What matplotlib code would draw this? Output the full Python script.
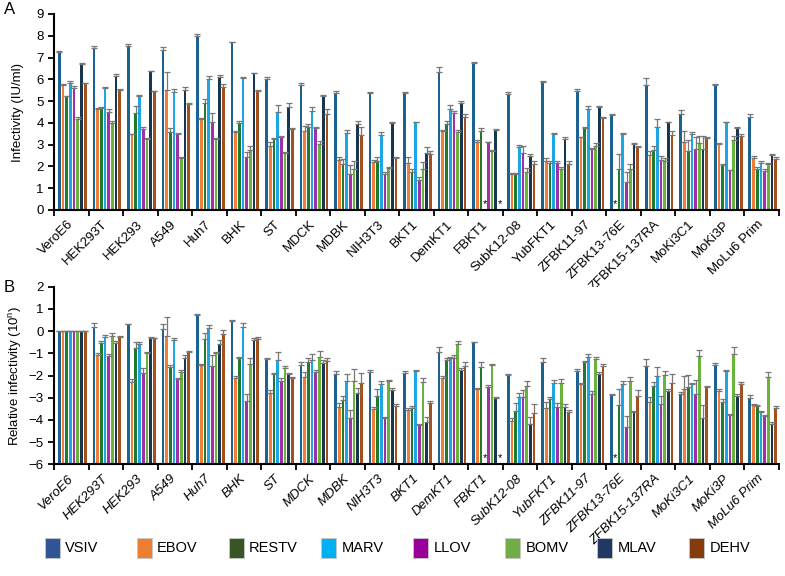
import numpy as np
import matplotlib
matplotlib.use('Agg')
import matplotlib.pyplot as plt
import matplotlib.transforms as mtransforms
from matplotlib.patches import Rectangle

plt.rcParams['font.family'] = ['Liberation Sans', 'DejaVu Sans']

cells = ['VeroE6', 'HEK293T', 'HEK293', 'A549', 'Huh7', 'BHK', 'ST', 'MDCK', 'MDBK',
         'NIH3T3', 'BKT1', 'DemKT1', 'FBKT1', 'SubK12-08', 'YubFKT1', 'ZFBK11-97',
         'ZFBK13-76E', 'ZFBK15-137RA', 'MoKi3C1', 'MoKi3P', 'MoLu6 Prim']
series = ['VSIV', 'EBOV', 'RESTV', 'MARV', 'LLOV', 'BOMV', 'MLAV', 'DEHV']
nan = np.nan

# Panel A: infectivity (IU/ml, log10)
a_vsiv = [7.25, 7.45, 7.55, 7.35, 8.0, 7.7, 6.0, 5.74, 5.37, 5.37, 5.38, 6.35, 6.73, 5.31, 5.86, 5.46, 4.36, 5.74, 4.43, 5.74, 4.25]
a_ebov = [5.72, 4.65, 3.47, 5.5, 4.2, 3.6, 2.95, 3.63, 2.29, 2.21, 2.18, 3.62, 3.13, 1.67, 2.25, 3.33, nan, 2.52, 3.13, 3.04, 2.41]
a_restv = [5.22, 4.7, 4.47, 3.6, 4.9, 4.0, 3.27, 3.8, 2.12, 2.25, 1.75, 3.94, 3.62, 1.64, 2.18, 3.78, 1.87, 2.75, 2.71, 2.06, 1.86]
a_marv = [5.82, 5.6, 5.25, 5.4, 6.0, 6.05, 4.52, 4.54, 3.54, 3.44, 4.02, 4.63, nan, 2.9, 3.5, 4.66, 3.47, 3.79, 3.47, 4.02, 2.16]
a_llov = [5.6, 4.5, 3.72, 3.47, 4.05, 2.45, 3.35, 3.77, 1.67, 1.66, 1.40, 4.46, 3.10, 2.62, 2.17, 2.79, 1.29, 2.29, 2.79, 1.83, 1.79]
a_bomv = [4.2, 4.0, 3.25, 2.4, 3.25, 2.75, 2.6, 3.02, 1.90, 1.93, 1.90, 3.59, 2.70, 1.75, 1.86, 2.96, 1.90, 2.24, 3.08, 3.21, 2.10]
a_mlav = [6.7, 6.15, 6.37, 5.5, 6.1, 6.28, 4.75, 5.23, 3.93, 4.0, 2.61, 4.91, 3.68, 2.48, 3.28, 4.74, 3.02, 4.02, 2.78, 3.77, 2.52]
a_dehv = [5.82, 5.5, 5.45, 4.87, 5.67, 5.45, 3.7, 4.43, 3.44, 2.39, 2.58, 4.26, nan, 2.13, 2.13, 4.24, 2.9, 3.44, 3.31, 3.39, 2.32]

a_vsiv_err = [.07, .07, .08, .15, .1, .03, .12, .1, .1, .05, .04, .2, .05, .1, .05, .1, .05, .3, .15, .05, .15]
a_ebov_err = [.05, .05, .03, .85, .03, .05, .15, .25, .15, .1, .25, .05, .07, .05, .15, .02, 0, .2, .5, .05, .05]
a_restv_err = [.03, .05, .3, .15, .2, .07, .05, .15, .2, .2, .15, .15, .15, .05, .05, .02, .7, .2, .5, .05, .1]
a_marv_err = [.1, .07, .05, .15, .17, .07, .28, .2, .15, .15, .02, .2, 0, .1, .05, .1, .05, .4, .1, .02, .1]
a_llov_err = [.1, .12, .07, .05, .4, .2, .07, .05, .4, .1, .1, .1, .02, .3, .1, .05, .45, .2, .55, .02, .1]
a_bomv_err = [.05, .1, .05, .03, .05, .2, .05, .15, .35, .05, .3, .1, .05, .2, .1, .1, .2, .15, .3, .2, .07]
a_mlav_err = [.05, .1, .03, .15, .12, .02, .15, .07, .15, .03, .3, .1, .03, .1, .05, .05, .05, .03, .6, .05, .05]
a_dehv_err = [.03, .07, .03, .03, .12, .08, .05, .2, .35, .05, .15, .15, 0, .1, .1, .05, .05, .2, .05, .1, .1]

# Panel B: relative infectivity (10^n)
b_vsiv = [0, 0.2, 0.3, 0.08, 0.74, 0.47, -1.25, -1.53, -1.91, -1.86, -1.9, -0.93, -0.51, -1.98, -1.38, -1.8, -2.88, -1.57, -2.84, -1.53, -3.0]
b_ebov = [0, -1.08, -2.28, -0.23, -1.53, -2.13, -2.81, -2.09, -3.41, -3.51, -3.55, -2.1, -2.61, -4.05, -3.45, -2.39, nan, -3.21, -2.63, -2.7, -3.33]
b_restv = [0, -0.53, -0.74, -1.61, -0.35, -1.2, -1.95, -1.41, -3.11, -2.93, -3.48, -1.31, -1.61, -3.6, -3.06, -1.38, -3.35, -2.48, -2.51, -3.18, -3.38]
b_marv = [0, -0.26, -0.57, -0.41, 0.15, 0.2, -1.31, -1.28, -2.24, -2.4, -1.8, -1.23, nan, -2.96, -2.36, -1.17, -2.39, -2.03, -2.39, -1.79, -3.66]
b_llov = [0, -1.13, -1.88, -2.15, -1.58, -3.15, -2.24, -1.83, -3.9, -3.9, -4.23, -1.19, -2.54, -2.96, -3.44, -2.84, -4.31, -3.3, -2.84, -3.78, -3.81]
b_bomv = [0, -0.2, -0.98, -1.83, -0.98, -1.46, -1.64, -1.16, -2.24, -2.24, -2.31, -0.6, -1.52, -2.48, -2.33, -1.25, -2.25, -1.96, -1.13, -1.01, -2.06]
b_mlav = [0, -0.53, -0.29, -1.19, -0.56, -0.38, -1.95, -1.43, -2.78, -2.66, -4.08, -1.76, -3.0, -4.2, -3.41, -1.94, -3.63, -2.69, -3.92, -2.93, -4.19]
b_dehv = [0, -0.26, -0.32, -0.93, -0.11, -0.36, -2.1, -1.35, -2.33, -3.38, -3.23, -1.55, nan, -3.68, -3.66, -1.56, -2.91, -2.36, -2.51, -2.39, -3.48]

b_vsiv_err = [0, .15, .02, .25, .02, .05, .05, .15, .12, .1, .1, .2, .03, .05, .15, .1, .05, .3, .1, .08, .1]
b_ebov_err = [0, .1, .1, .85, .05, .1, .15, .25, .15, .08, .1, .1, .05, .15, .25, .05, 0, .22, .6, .1, .05]
b_restv_err = [0, .08, .25, .1, .25, .05, .05, .2, .2, .3, .1, .1, .2, .35, .08, .02, .75, .2, .55, .1, .05]
b_marv_err = [0, .07, .07, .12, .12, .15, .35, .25, .3, .15, .05, .05, 0, .15, .15, .15, .15, .4, .05, .05, .05]
b_llov_err = [0, .1, .2, .05, .5, .3, .12, .1, .35, .05, .03, .1, .1, .3, .2, .15, .5, .37, .65, .05, .05]
b_bomv_err = [0, .1, .05, .1, .02, .25, .05, .25, .55, .05, .2, .15, .05, .25, .18, .1, .2, .17, .28, .28, .2]
b_mlav_err = [0, .1, .02, .12, .15, .05, .08, .12, .2, .1, .2, .1, .05, .35, .12, .1, .05, .1, .6, .1, .1]
b_dehv_err = [0, .05, .03, .05, .15, .1, .05, .15, .45, .08, .1, .15, 0, .4, .12, .1, .25, .42, .05, .1, .1]

a_vals = [a_vsiv, a_ebov, a_restv, a_marv, a_llov, a_bomv, a_mlav, a_dehv]
a_errs = [a_vsiv_err, a_ebov_err, a_restv_err, a_marv_err, a_llov_err, a_bomv_err, a_mlav_err, a_dehv_err]
b_vals = [b_vsiv, b_ebov, b_restv, b_marv, b_llov, b_bomv, b_mlav, b_dehv]
b_errs = [b_vsiv_err, b_ebov_err, b_restv_err, b_marv_err, b_llov_err, b_bomv_err, b_mlav_err, b_dehv_err]

bar_colors = ['#1c6291', '#f07e3a', '#1f7a2e', '#1ea5e6', '#a12fa6', '#68b33a', '#17364f', '#a3501c']
legend_colors = ['#2f5597', '#ed7d31', '#375623', '#00b0f0', '#990099', '#70ad47', '#203864', '#843c0c']

W, H = 785, 576
fig = plt.figure(figsize=(W / 100, H / 100), dpi=100)
axA = fig.add_axes([54 / W, 1 - 210 / H, (779 - 54) / W, (210 - 14) / H])
axB = fig.add_axes([54 / W, 1 - 464.3 / H, (779 - 54) / W, (464.3 - 286.7) / H])

x = np.arange(len(cells))
slot = 0.107
bw = 0.078
shift = mtransforms.ScaledTranslation(4 / 100, -1 / 100, fig.dpi_scale_trans)


def draw(ax, vals_list, errs_list, base, star_y, italic):
    for i in range(len(series)):
        vals = np.array(vals_list[i], float)
        err = np.array(errs_list[i], float)
        pos = x + (i - 3.5) * slot + 0.03
        ax.bar(pos, vals - base, bottom=base, width=bw, color=bar_colors[i],
               edgecolor='none', zorder=2)
        ax.errorbar(pos, vals, yerr=[np.zeros_like(err), err], fmt='none',
                    ecolor='#777777', elinewidth=0.9, capsize=2.2, capthick=0.9, zorder=3)
        for p in pos[np.isnan(vals)]:
            ax.text(p, star_y, '*', ha='center', va='center', fontsize=8, zorder=4)
    ax.set_xlim(-0.5, len(cells) - 0.5)
    ax.set_xticks(np.arange(-0.5, len(cells)), labels=[])
    ax.set_xticks(x, minor=True)
    ax.set_xticklabels(cells, minor=True, rotation=45, ha='right', va='center',
                       rotation_mode='anchor', fontsize=9.5,
                       fontstyle='italic' if italic else 'normal')
    for lab in ax.get_xticklabels(minor=True):
        lab.set_transform(lab.get_transform() + shift)
    ax.tick_params(axis='x', which='major', length=4, width=1.3, direction='out')
    ax.tick_params(axis='x', which='minor', length=0, pad=9)
    ax.tick_params(axis='y', length=4, width=1.3, direction='out', labelsize=9.5)
    for s in ['top', 'right']:
        ax.spines[s].set_visible(False)
    for s in ['left', 'bottom']:
        ax.spines[s].set_linewidth(1.5)


draw(axA, a_vals, a_errs, 0, 0.28, False)
axA.set_ylim(0, 9)
axA.set_yticks(range(0, 10))
axA.set_ylabel('Infectivity (IU/ml)', fontsize=9.5)
axA.yaxis.set_label_coords(-0.042, 0.5)

draw(axB, b_vals, b_errs, -6, -5.74, True)
axB.set_ylim(-6, 2)
axB.set_yticks(range(-6, 3))
axB.set_ylabel('Relative infectivity (10$^\\mathregular{n}$)', fontsize=9.5)
axB.yaxis.set_label_coords(-0.042, 0.5)

fig.text(4 / W, 1 - 10 / H, 'A', fontsize=12, va='center', ha='left')
fig.text(4 / W, 1 - 287 / H, 'B', fontsize=12, va='center', ha='left')

# legend
for i, name in enumerate(series):
    cx = 52 + i * 92.1
    fig.patches.append(Rectangle(((cx - 7.5) / W, 1 - 558 / H), 15 / W, 20 / H,
                                 transform=fig.transFigure, facecolor=legend_colors[i],
                                 edgecolor='#c8c8c8', linewidth=0.6))
    fig.text((cx + 13) / W, 1 - 548 / H, name, fontsize=10.5, va='center', ha='left')

fig.savefig('out.png', dpi=100)
